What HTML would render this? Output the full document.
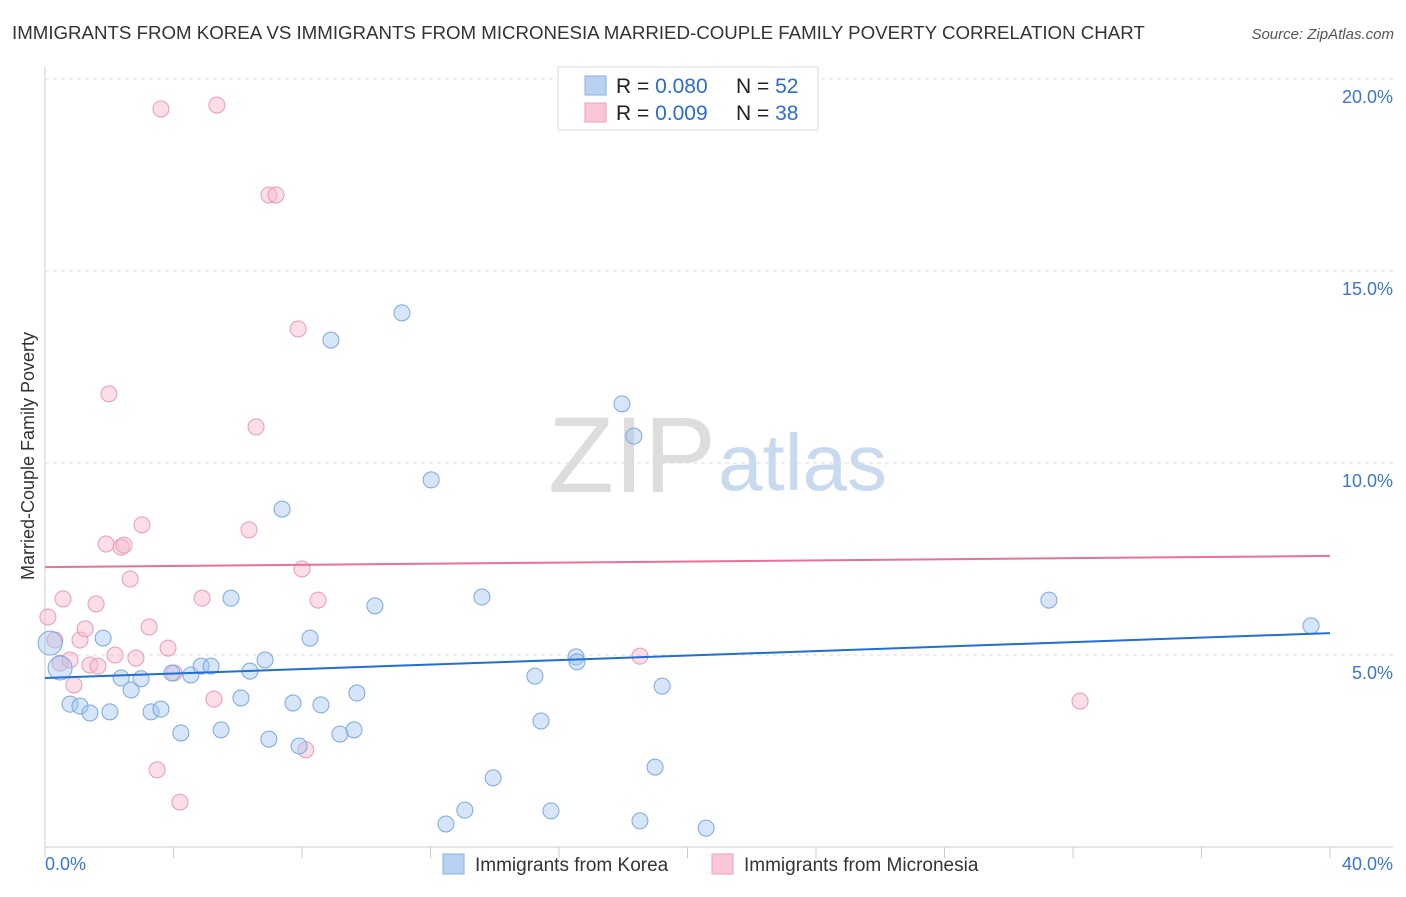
<!DOCTYPE html>
<html><head><meta charset="utf-8"><style>
body{margin:0;background:#fff;font-family:"Liberation Sans",sans-serif}
svg text{font-family:"Liberation Sans",sans-serif}
</style></head><body>
<svg id="c" width="1406" height="892" xmlns="http://www.w3.org/2000/svg">
<text x="12" y="39" font-size="18.7" fill="#333">IMMIGRANTS FROM KOREA VS IMMIGRANTS FROM MICRONESIA MARRIED-COUPLE FAMILY POVERTY CORRELATION CHART</text>
<text x="1394" y="39" font-size="15" fill="#555" font-style="italic" text-anchor="end">Source: ZipAtlas.com</text>
<text x="716" y="492" font-size="108" fill="#ddd" font-family="Liberation Serif" text-anchor="end">ZIP</text>
<text x="718" y="490" font-size="80" fill="#c8daf0">atlas</text>
<text transform="translate(34,456) rotate(-90)" font-size="18" fill="#333" text-anchor="middle">Married-Couple Family Poverty</text>
<g id="grid"></g><g id="marks"></g>
<g>
<rect x="558" y="67" width="260" height="63" fill="#fff" stroke="#ddd"/>
<rect x="585" y="76" width="21" height="19" fill="#b8d2f4" stroke="#88aee0"/>
<rect x="585" y="103" width="21" height="19" fill="#f9c7d6" stroke="#eba0b8"/>
<text x="616" y="93" font-size="21" fill="#222">R = <tspan fill="#2b6cd0">0.080</tspan><tspan x="736">N = </tspan><tspan fill="#2b6cd0">52</tspan></text>
<text x="616" y="120" font-size="21" fill="#222">R = <tspan fill="#2b6cd0">0.009</tspan><tspan x="736">N = </tspan><tspan fill="#2b6cd0">38</tspan></text>
</g>
<g>
<rect x="443" y="854" width="21" height="20" fill="#b8d2f4" stroke="#88aee0"/>
<text x="475" y="871" font-size="19" fill="#333">Immigrants from Korea</text>
<rect x="712" y="854" width="21" height="20" fill="#f9c7d6" stroke="#eba0b8"/>
<text x="744" y="871" font-size="19" fill="#333">Immigrants from Micronesia</text>
</g>
</svg>
<script>
const koreaX=[0.16,0.47,0.78,1.09,1.40,1.81,2.02,2.37,2.68,2.99,3.30,3.61,4.23,3.95,4.54,4.86,5.17,5.48,5.79,6.10,6.38,6.85,6.97,7.38,7.72,7.91,8.25,8.59,8.90,9.18,9.62,9.71,10.27,11.11,12.02,12.48,13.07,13.60,13.95,15.25,15.44,15.75,16.53,16.56,17.96,18.33,18.52,18.99,19.21,20.58,31.25,39.41];
const koreaY=[5.31,4.66,3.72,3.67,3.49,5.44,3.52,4.40,4.09,4.38,3.52,3.59,2.97,4.53,4.48,4.71,4.71,3.05,6.48,3.88,4.58,4.87,2.81,8.80,3.75,2.63,5.44,3.70,13.20,2.94,3.05,4.01,6.28,13.91,9.56,0.60,0.96,6.51,1.80,4.45,3.28,0.94,4.95,4.82,11.54,10.70,0.68,2.08,4.19,0.49,6.43,5.76];
const microX=[0.09,0.31,0.56,0.47,0.78,0.90,1.09,1.25,1.40,1.59,1.65,1.90,1.99,2.18,2.37,2.46,2.65,2.83,3.02,3.24,3.49,3.61,3.83,4.02,4.20,4.89,5.26,5.35,6.35,6.57,6.97,7.19,7.88,8.00,8.12,8.50,18.52,32.22];
const microY=[5.99,5.39,6.46,4.79,4.87,4.22,5.39,5.68,4.74,6.33,4.71,7.89,11.80,5.00,7.81,7.86,6.98,4.92,8.39,5.73,2.01,19.22,5.18,4.53,1.17,6.48,3.85,19.32,8.26,10.94,16.98,16.98,13.49,7.24,2.53,6.43,4.97,3.80];
const koreaTrend=[4.40,5.57];
const microTrend=[7.29,7.58];
const yTicks=[5,10,15,20];
const xTickLabels=["0.0%","40.0%"];
const NS="http://www.w3.org/2000/svg";
const sx=v=>45+v*32.125, sy=v=>847-v*38.4;
function mk(t,a,p){const e=document.createElementNS(NS,t);for(const k in a)e.setAttribute(k,a[k]);p.appendChild(e);return e;}
const grid=document.getElementById('grid'), marks=document.getElementById('marks');
let l=mk('line',{x1:45,y1:67,x2:45,y2:847,stroke:'#ccc'},grid);


l=mk('line',{x1:45,y1:847,x2:1393,y2:847,stroke:'#ccc'},grid);


for(let i=0;i<=10;i++){const t=mk('line',{x1:sx(i*4),y1:847,x2:sx(i*4),y2:858,stroke:'#ccc'},grid);

}
yTicks.forEach(v=>{const g=mk('line',{x1:45,y1:sy(v),x2:1393,y2:sy(v),stroke:'#ddd','stroke-dasharray':'4 4'},grid);


const t=mk('text',{x:1393,y:sy(v)+24,'font-size':18,fill:'#3a76d4','text-anchor':'end'},grid);t.textContent=v.toFixed(1)+'%';

});
let t0=mk('text',{x:45,y:870,'font-size':18,fill:'#3a76d4'},grid);t0.textContent=xTickLabels[0];


let t1=mk('text',{x:1393,y:870,'font-size':18,fill:'#3a76d4','text-anchor':'end'},grid);t1.textContent=xTickLabels[1];


microX.forEach((x,i)=>{const c=mk('circle',{cx:sx(x),cy:sy(microY[i]),r:8,fill:'rgba(246,182,202,0.45)',stroke:'#e99bb5','stroke-width':1},marks);

});
koreaX.forEach((x,i)=>{const c=mk('circle',{cx:sx(x),cy:sy(koreaY[i]),r:i<2?12:8,fill:'rgba(164,198,240,0.45)',stroke:'#7aa8e0','stroke-width':1},marks);

});
let tl=mk('line',{x1:sx(0),y1:sy(koreaTrend[0]),x2:sx(40),y2:sy(koreaTrend[1]),stroke:'#1f6fd6','stroke-width':2},marks);


tl=mk('line',{x1:sx(0),y1:sy(microTrend[0]),x2:sx(40),y2:sy(microTrend[1]),stroke:'#e8709a','stroke-width':2},marks);


</script>
</body></html>
